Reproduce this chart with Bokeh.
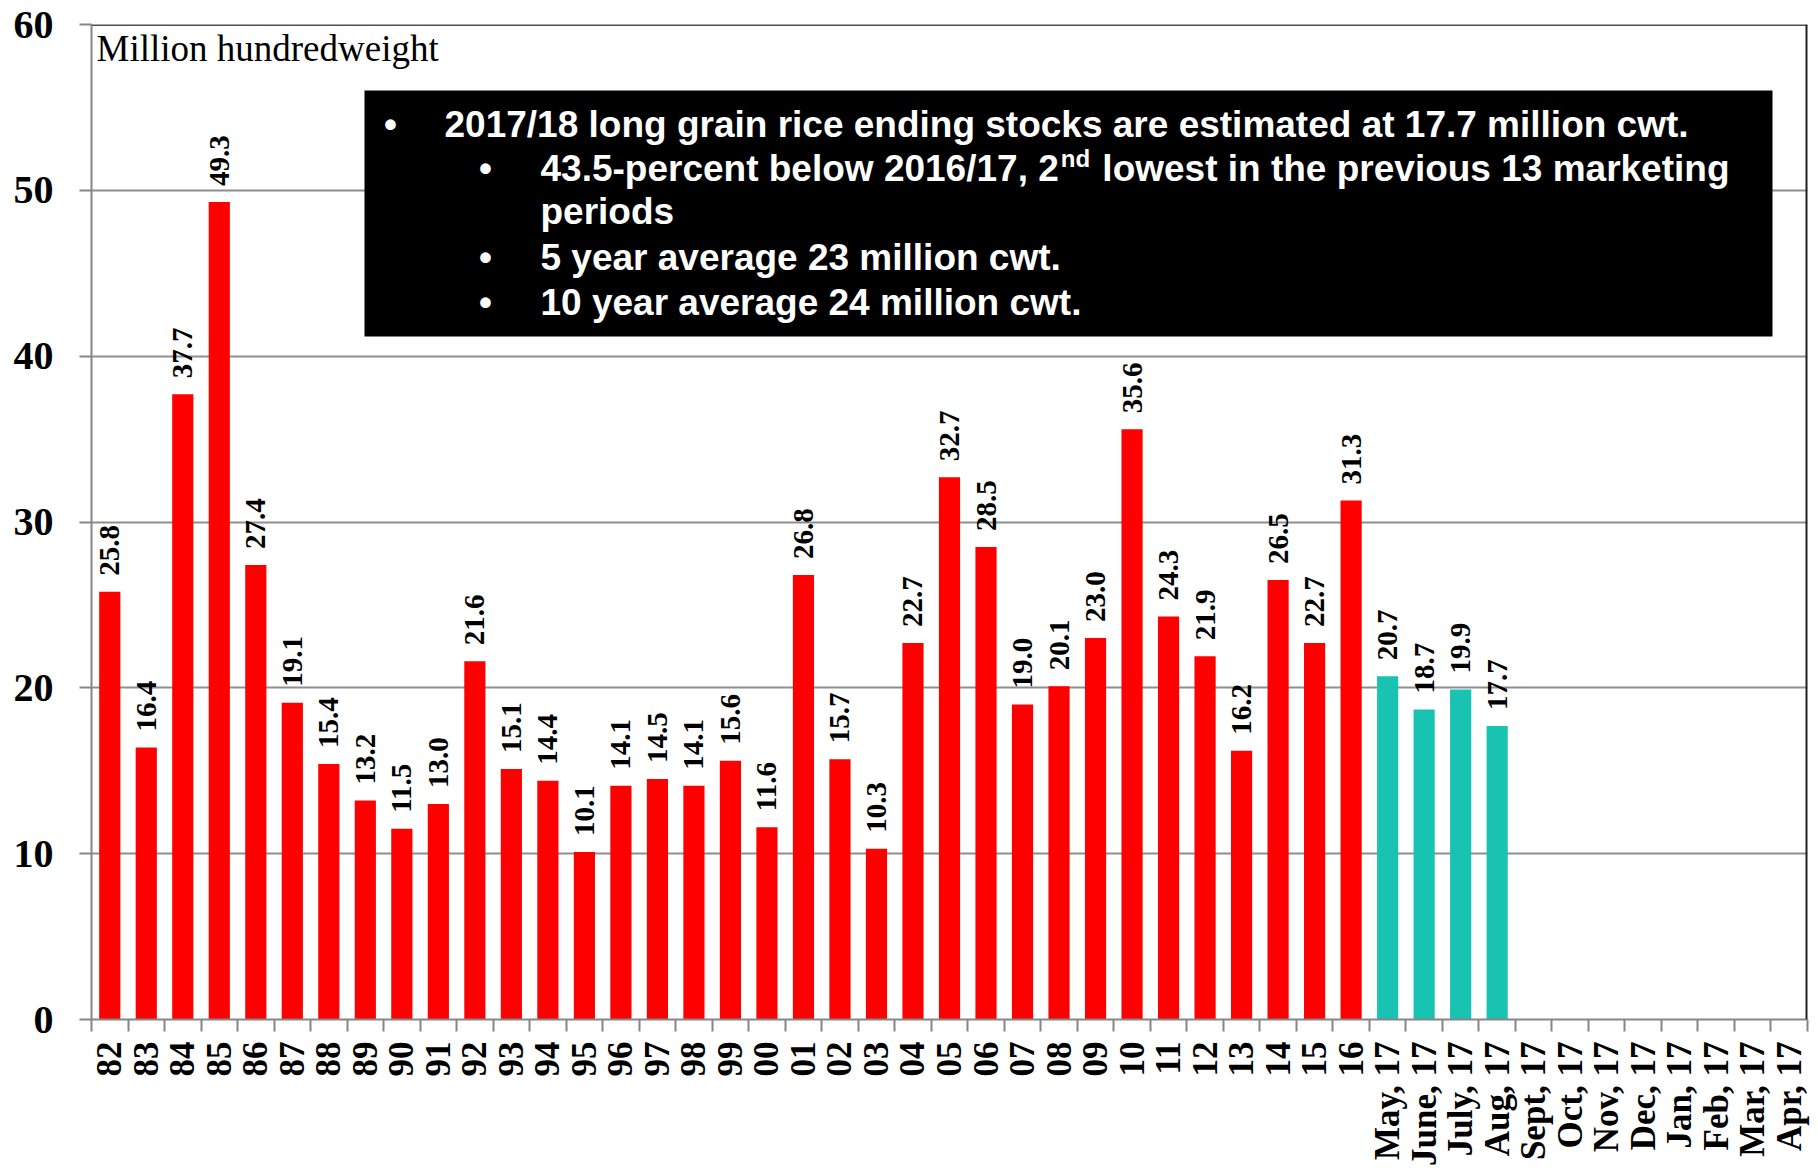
import math
from bokeh.plotting import figure
from bokeh.models import Range1d, FixedTicker, ColumnDataSource, LabelSet, Label, Span
from bokeh.embed import file_html
from bokeh.resources import INLINE

# ---------------- data ----------------
years = ["82", "83", "84", "85", "86", "87", "88", "89", "90", "91", "92", "93", "94", "95",
         "96", "97", "98", "99", "00", "01", "02", "03", "04", "05", "06", "07", "08", "09",
         "10", "11", "12", "13", "14", "15", "16"]
year_stocks = [25.8, 16.4, 37.7, 49.3, 27.4, 19.1, 15.4, 13.2, 11.5, 13.0, 21.6, 15.1, 14.4, 10.1,
               14.1, 14.5, 14.1, 15.6, 11.6, 26.8, 15.7, 10.3, 22.7, 32.7, 28.5, 19.0, 20.1, 23.0,
               35.6, 24.3, 21.9, 16.2, 26.5, 22.7, 31.3]
months = ["May, 17", "June, 17", "July, 17", "Aug, 17", "Sept, 17", "Oct, 17", "Nov, 17",
          "Dec, 17", "Jan, 17", "Feb, 17", "Mar, 17", "Apr, 17"]
month_stocks = [20.7, 18.7, 19.9, 17.7]
y_ticks = [0, 10, 20, 30, 40, 50, 60]
unit_label = "Million hundredweight"
note_line1 = "2017/18 long grain rice ending stocks are estimated at 17.7 million cwt."
note_line2a = "43.5-percent below 2016/17, 2"
note_line2sup = "nd"
note_line2b = "lowest in the previous 13 marketing"
note_line3 = "periods"
note_line4 = "5 year average 23 million cwt."
note_line5 = "10 year average 24 million cwt."

categories = years + months
RED = "#FF0000"
TEAL = "#18C4B1"
GRAY = "#868686"

# ---------------- layout ----------------
PAGE = 0
W, H = 1816, 1168
FL, FR, FT, FB = 91, 1807, 24, 1019
ncat = len(categories)
X0, X1 = -0.5, ncat - 0.5
Y0, Y1 = 0, 60


def dx(px):
    return X0 + (px - PAGE - FL) / (FR - FL) * (X1 - X0)


def dy(py):
    return Y0 + (FB - (py - PAGE)) / (FB - FT) * (Y1 - Y0)


p = figure(width=W, height=H, x_range=Range1d(X0, X1), y_range=Range1d(Y0, Y1),
           output_backend="svg", toolbar_location=None,
           min_border_left=FL, min_border_right=W - FR, min_border_top=FT, min_border_bottom=H - FB)
p.outline_line_color = None
p.background_fill_color = "white"
p.border_fill_color = "white"

# bars
tops = year_stocks + month_stocks
xs = list(range(len(tops)))
colors = [RED] * len(year_stocks) + [TEAL] * len(month_stocks)
labels = [f"{v:.1f}" for v in tops]
src = ColumnDataSource(dict(x=xs, top=tops, color=colors, label=labels))
p.vbar(x="x", top="top", bottom=0, width=0.58, fill_color="color", line_color=None, source=src)

p.add_layout(LabelSet(x="x", y="top", text="label", source=src, angle=math.pi / 2,
                      text_align="left", text_baseline="middle", y_offset=16,
                      text_font="Liberation Serif", text_font_style="bold",
                      text_font_size="29px", text_color="black"))

# axes
xa = p.xaxis[0]
xa.ticker = FixedTicker(ticks=list(range(ncat)), minor_ticks=[i - 0.5 for i in range(ncat + 1)])
xa.major_label_overrides = {i: c for i, c in enumerate(categories)}
xa.major_label_orientation = math.pi / 2
xa.major_tick_out = 0
xa.major_tick_in = 0
xa.minor_tick_out = 12
xa.minor_tick_in = 0
xa.minor_tick_line_color = GRAY
xa.minor_tick_line_width = 2
xa.axis_line_color = GRAY
xa.axis_line_width = 2
xa.major_label_standoff = 10
xa.major_label_text_font = "Liberation Serif"
xa.major_label_text_font_style = "bold"
xa.major_label_text_font_size = "35px"
xa.major_label_text_color = "black"

ya = p.yaxis[0]
ya.ticker = FixedTicker(ticks=y_ticks)
ya.major_tick_out = 12
ya.major_tick_in = 0
ya.minor_tick_line_color = None
ya.major_tick_line_color = GRAY
ya.major_tick_line_width = 2
ya.axis_line_color = GRAY
ya.axis_line_width = 2
ya.major_label_standoff = 26
ya.major_label_text_font = "Liberation Serif"
ya.major_label_text_font_style = "bold"
ya.major_label_text_font_size = "40px"
ya.major_label_text_color = "black"

p.xgrid.visible = False
p.ygrid.ticker = FixedTicker(ticks=y_ticks[1:-1])
p.ygrid.grid_line_color = "#8E8E8E"
p.ygrid.grid_line_width = 2

p.add_layout(Span(location=Y1, dimension="width", line_color="#505050", line_width=3))
p.add_layout(Span(location=X1, dimension="height", line_color="#202020", line_width=4))

# unit label
p.add_layout(Label(x=dx(96), y=dy(48), text=unit_label, text_font="Liberation Serif",
                   text_font_size="37px", text_color="black", text_baseline="alphabetic"))

# note box
p.quad(left=dx(364), right=dx(1772), top=dy(90), bottom=dy(336),
       fill_color="black", line_color=None)

ARIAL_BOLD = {'0': 556, '1': 556, '2': 556, '3': 556, '4': 556, '5': 556, '6': 556, '7': 556,
              '8': 556, '9': 556, '.': 278, '-': 333, '/': 278, ',': 278, ' ': 278,
              'p': 611, 'e': 556, 'r': 389, 'c': 556, 'n': 611, 't': 333, 'b': 611, 'l': 278,
              'o': 611, 'w': 778, 'd': 611}


def tw(s, size):
    return sum(ARIAL_BOLD.get(ch, 556) for ch in s) / 1000.0 * size


FS = 37
SUP = 24
SHIFT = -13


def note(x_px, y_px, s, size=FS, align="left"):
    p.add_layout(Label(x=dx(x_px), y=dy(y_px + SHIFT), text=s, text_font="Liberation Sans",
                       text_font_style="bold", text_font_size=f"{size}px", text_color="white",
                       text_align=align, text_baseline="alphabetic"))


B1, B2 = 390, 485
T1, T2 = 444, 540
note(B1, 137, "\u2022", align="center")
note(T1, 137, note_line1)
note(B2, 181, "\u2022", align="center")
note(T2, 181, note_line2a)
x_sup = T2 + tw(note_line2a, FS) + 2
note(x_sup, 171, note_line2sup, size=SUP)
x_b = x_sup + tw(note_line2sup, SUP) + tw(" ", FS) + 2
note(x_b, 181, note_line2b)
note(T2, 224, note_line3)
note(B2, 270, "\u2022", align="center")
note(T2, 270, note_line4)
note(B2, 315, "\u2022", align="center")
note(T2, 315, note_line5)

open("out.html", "w").write(file_html(p, INLINE))
